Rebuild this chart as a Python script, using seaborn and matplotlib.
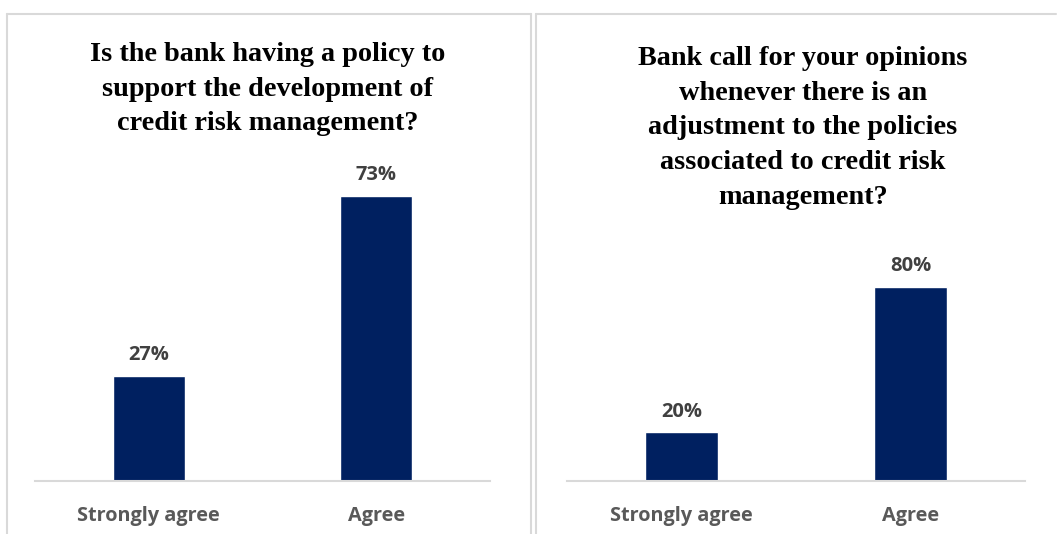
import matplotlib
matplotlib.use("Agg")
import matplotlib.pyplot as plt
import seaborn as sns
import pandas as pd
from matplotlib.lines import Line2D

categories = ["Strongly agree", "Agree"]
left_values = [27, 73]
right_values = [20, 80]
left_title = "Is the bank having a policy to\nsupport the development of\ncredit risk management?"
right_title = ("Bank call for your opinions\nwhenever there is an\nadjustment to the policies\n"
               "associated to credit risk\nmanagement?")

sns.set_theme(style="white")
W, H = 1057, 534
fig = plt.figure(figsize=(W / 100, H / 100), dpi=100)

BAR = "#002060"
GRID = "#d9d9d9"

def px_axes(x0, x1, y_base, height):
    return fig.add_axes([x0 / W, (H - y_base) / H, (x1 - x0) / W, height / H])

def draw(ax, values, ymax):
    df = pd.DataFrame({"cat": categories, "val": values})
    sns.barplot(data=df, x="cat", y="val", color=BAR, saturation=1, width=0.316, ax=ax)
    ax.set_xlim(-0.5, 1.5)
    ax.set_ylim(0, ymax)
    for s in ["top", "right", "left"]:
        ax.spines[s].set_visible(False)
    ax.spines["bottom"].set_color(GRID)
    ax.spines["bottom"].set_linewidth(1.5)
    ax.set_yticks([])
    ax.set_xlabel("")
    ax.set_ylabel("")
    ax.tick_params(axis="x", length=0, pad=18)
    for lab in ax.get_xticklabels():
        lab.set_fontfamily("Open Sans")
        lab.set_fontweight("bold")
        lab.set_fontsize(14.3)
        lab.set_color("#595959")
    for i, v in enumerate(values):
        ax.annotate(f"{v}%", (i, v), xytext=(0, 15), textcoords="offset points",
                    ha="center", va="center", fontsize=14.5, fontweight="bold",
                    family="Open Sans", color="#404040")
    ax.patch.set_alpha(0)

ax1 = px_axes(35, 490, 481, 312)
draw(ax1, left_values, 80)
ax2 = px_axes(567, 1025, 481, 243)
draw(ax2, right_values, 100)

# panel borders
for x in (7, 531, 536):
    fig.add_artist(Line2D([x / W, x / W], [0, (H - 14) / H], color=GRID, lw=1.5))
fig.add_artist(Line2D([7 / W, 531 / W], [(H - 14) / H] * 2, color=GRID, lw=1.5))
fig.add_artist(Line2D([536 / W, 1 - 1 / W], [(H - 14) / H] * 2, color=GRID, lw=1.5))

fig.text(268 / W, (H - 42) / H, left_title, ha="center", va="top", fontsize=20.3,
         fontweight="bold", family="Liberation Serif", color="black", linespacing=1.51)
fig.text(803 / W, (H - 46) / H, right_title, ha="center", va="top", fontsize=20.3,
         fontweight="bold", family="Liberation Serif", color="black", linespacing=1.51)

fig.savefig("out.png", dpi=100, facecolor="white")
